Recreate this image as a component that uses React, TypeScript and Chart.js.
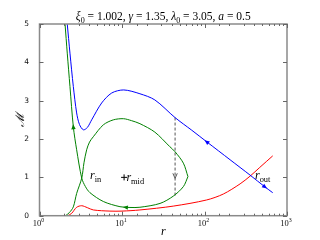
import { useEffect, useRef } from 'react';
import { Chart, registerables } from 'chart.js';
Chart.register(...registerables);

// ---------- data ----------
const blueR = [2.17, 2.34, 2.57, 2.82, 3.05, 3.4, 3.8, 4.29, 5.67, 7.5, 10.5, 16.5, 25, 43.9, 70, 106, 204, 356, 541, 671];
const blueM = [5.0, 4.24, 3.37, 2.68, 2.38, 2.24, 2.3, 2.5, 2.94, 3.2, 3.28, 3.18, 3.02, 2.56, 2.23, 1.93, 1.46, 1.06, 0.75, 0.6];

const greenAR = [2.04, 2.17, 2.34, 2.57, 2.82, 3.25, 3.6, 4.09, 5.94, 9.45, 12.5, 16.5, 28.9, 41.8, 55.5, 63];
const greenAM = [5.0, 4.24, 3.37, 2.32, 1.72, 0.98, 0.76, 0.6, 0.37, 0.235, 0.215, 0.22, 0.32, 0.51, 0.76, 1.02];

const greenBR = [2.07, 2.3, 2.57, 2.82, 3.25, 3.46, 3.73, 4.04, 4.49, 5.94, 7.85, 10.4, 13, 16.5, 25, 38, 43.9, 55.5, 63];
const greenBM = [0.0, 0.08, 0.23, 0.58, 0.98, 1.38, 1.72, 1.92, 2.06, 2.37, 2.5, 2.53, 2.48, 2.4, 2.18, 1.8, 1.67, 1.37, 1.02];

const redR = [2.2, 2.45, 2.82, 3.25, 3.8, 4.49, 7.15, 10, 16.5, 41.8, 106, 169, 270, 356, 468, 671];
const redM = [0.0, 0.06, 0.22, 0.26, 0.21, 0.15, 0.12, 0.12, 0.15, 0.25, 0.41, 0.565, 0.83, 1.03, 1.26, 1.56];

const dashR = [44, 44];
const dashM = [2.56, 0.5];

const rMid = [10.6];
const mMid = [1.0];

const xTickExp = [0, 1, 2, 3];
const yTicks = [0, 1, 2, 3, 4, 5];

// arrows: [r, M, towardR, towardM, colour, open]
const arrows: [number, number, number, number, string, boolean][] = [
  [106, 1.93, 90, 2.05, '#0000ff', false],
  [541, 0.75, 620, 0.66, '#0000ff', false],
  [2.57, 2.32, 2.52, 2.6, '#008000', false],
  [11, 0.218, 9, 0.235, '#008000', false],
  [44, 1.04, 44, 0.9, '#555555', true],
];

// annotation labels: [r, M, main, subscript]
const labels: [number, number, string, string][] = [
  [4.09, 1.04, 'r', 'in'],
  [11.3, 1.0, 'r', 'mid'],
  [409, 1.05, 'r', 'out'],
];

const SERIF = '"Liberation Serif", "DejaVu Serif", serif';

type Seg = { t: string; it?: boolean; sub?: boolean; sup?: boolean };

function drawRich(ctx: CanvasRenderingContext2D, segs: Seg[], x: number, y: number, size: number, align: 'left' | 'center' = 'left') {
  const fontFor = (s: Seg) => `${s.it ? 'italic ' : ''}${s.sub || s.sup ? size * 0.7 : size}px ${SERIF}`;
  let total = 0;
  const widths = segs.map((s) => {
    ctx.font = fontFor(s);
    const w = ctx.measureText(s.t).width;
    total += w;
    return w;
  });
  let cx = align === 'center' ? x - total / 2 : x;
  ctx.textAlign = 'left';
  ctx.textBaseline = 'alphabetic';
  segs.forEach((s, i) => {
    ctx.font = fontFor(s);
    const dy = s.sub ? size * 0.22 : s.sup ? -size * 0.4 : 0;
    ctx.fillText(s.t, cx, y + dy);
    cx += widths[i];
  });
}

const pts = (rs: number[], ms: number[]) => rs.map((r, i) => ({ x: r, y: ms[i] }));

const framePlugin = {
  id: 'frameDeco',
  afterDatasetsDraw(chart: any) {
    const ctx: CanvasRenderingContext2D = chart.ctx;
    const { left, right, top, bottom } = chart.chartArea;
    const xs = chart.scales.x;
    const ys = chart.scales.y;
    ctx.save();
    // frame
    ctx.strokeStyle = '#8a8a8a';
    ctx.lineWidth = 1.5;
    ctx.strokeRect(left, top, right - left, bottom - top);
    // x ticks (inward, top and bottom)
    ctx.lineWidth = 1;
    ctx.strokeStyle = '#666';
    xs.ticks.forEach((t: any) => {
      const v = t.value;
      const e = Math.round(Math.log10(v));
      const major = Math.abs(v - Math.pow(10, e)) < 1e-9 * v;
      const px = Math.round(xs.getPixelForValue(v)) + 0.5;
      const len = major ? 4 : 2;
      ctx.beginPath();
      ctx.moveTo(px, bottom);
      ctx.lineTo(px, bottom - len);
      ctx.moveTo(px, top);
      ctx.lineTo(px, top + len);
      ctx.stroke();
    });
    ys.ticks.forEach((t: any) => {
      const py = Math.round(ys.getPixelForValue(t.value)) + 0.5;
      ctx.beginPath();
      ctx.moveTo(left, py);
      ctx.lineTo(left + 4, py);
      ctx.moveTo(right, py);
      ctx.lineTo(right - 4, py);
      ctx.stroke();
    });
    // arrows
    arrows.forEach(([r, m, tr, tm, col, open]) => {
      const px = xs.getPixelForValue(r);
      const py = ys.getPixelForValue(m);
      const qx = xs.getPixelForValue(tr);
      const qy = ys.getPixelForValue(tm);
      const ang = Math.atan2(qy - py, qx - px);
      const ux = Math.cos(ang), uy = Math.sin(ang);
      const L = 5, W = 2.2;
      const tipx = px + ux * L / 2, tipy = py + uy * L / 2;
      const bx = px - ux * L / 2, by = py - uy * L / 2;
      ctx.beginPath();
      ctx.moveTo(bx - uy * W, by + ux * W);
      ctx.lineTo(tipx, tipy);
      ctx.lineTo(bx + uy * W, by - ux * W);
      if (open) {
        ctx.strokeStyle = col;
        ctx.lineWidth = 1;
        ctx.stroke();
      } else {
        ctx.closePath();
        ctx.fillStyle = col;
        ctx.fill();
      }
    });
    // annotation labels
    ctx.fillStyle = '#000';
    labels.forEach(([r, m, main, sub]) => {
      const px = xs.getPixelForValue(r);
      const py = ys.getPixelForValue(m);
      drawRich(ctx, [{ t: main, it: true }, { t: sub, sub: true }], px, py + 3.5, 12);
    });
    // title
    drawRich(
      ctx,
      [
        { t: 'ξ', it: true }, { t: '0', sub: true }, { t: ' = 1.002, ' },
        { t: 'γ', it: true }, { t: ' = 1.35, ' },
        { t: 'λ', it: true }, { t: '0', sub: true }, { t: ' = 3.05, ' },
        { t: 'a', it: true }, { t: ' = 0.5' },
      ],
      (left + right) / 2, 20, 11.5, 'center'
    );
    // x tick labels
    ctx.fillStyle = '#111';
    xTickExp.forEach((e) => {
      const px = xs.getPixelForValue(Math.pow(10, e));
      drawRich(ctx, [{ t: '10' }, { t: String(e), sup: true }], px - 1, bottom + 10, 8.5, 'center');
    });
    // axis titles
    ctx.fillStyle = '#000';
    drawRich(ctx, [{ t: 'r', it: true }], (left + right) / 2, 235, 12, 'center');
    ctx.translate(21, (top + bottom) / 2);
    ctx.rotate(-Math.PI / 2);
    ctx.font = `italic 12px ${SERIF}`;
    ctx.textAlign = 'center';
    ctx.textBaseline = 'middle';
    ctx.fillText('ℳ', 0, 0);
    ctx.restore();
  },
};

export default function App() {
  const ref = useRef<HTMLCanvasElement | null>(null);
  useEffect(() => {
    document.body.style.margin = '0';
    const canvas = ref.current!;
    const line = (data: any, color: string, extra: any = {}) => ({
      data,
      showLine: true,
      borderColor: color,
      backgroundColor: color,
      borderWidth: 1,
      pointRadius: 0,
      tension: 0.3,
      fill: false,
      ...extra,
    });
    const chart = new Chart(canvas, {
      type: 'scatter',
      data: {
        datasets: [
          line(pts(blueR, blueM), '#0000ff'),
          line(pts(greenAR, greenAM), '#008000'),
          line(pts(greenBR, greenBM), '#008000'),
          line(pts(redR, redM), '#ff0000'),
          line(pts(dashR, dashM), '#555555', { borderDash: [3, 2], tension: 0 }),
          {
            data: pts(rMid, mMid),
            showLine: false,
            pointStyle: 'cross',
            pointRadius: 3,
            borderColor: '#000',
            borderWidth: 1,
          },
        ],
      },
      options: {
        animation: false,
        responsive: false,
        events: [],
        layout: { padding: { left: 0, top: 24, right: 33, bottom: 0 } },
        plugins: { legend: { display: false }, tooltip: { enabled: false }, title: { display: false } },
        scales: {
          x: {
            type: 'logarithmic',
            min: 1,
            max: 1000,
            grid: { display: false },
            border: { display: false },
            ticks: { display: false, autoSkip: false },
            afterFit: (s: any) => { s.height = 24.3; s.paddingLeft = 0; s.paddingRight = 0; },
          },
          y: {
            type: 'linear',
            min: 0,
            max: 5,
            grid: { display: false },
            border: { display: false },
            afterBuildTicks: (s: any) => { s.ticks = yTicks.map((v) => ({ value: v })); },
            ticks: {
              padding: 2.5,
              color: '#111',
              font: { family: '"DejaVu Sans", sans-serif', size: 7.5 },
            },
            afterFit: (s: any) => { s.width = 39.5; },
          },
        },
      },
      plugins: [framePlugin],
    });
    return () => chart.destroy();
  }, []);
  return (
    <div style={{ width: 320, height: 240 }}>
      <canvas ref={ref} width={320} height={240} style={{ display: 'block' }} />
    </div>
  );
}
